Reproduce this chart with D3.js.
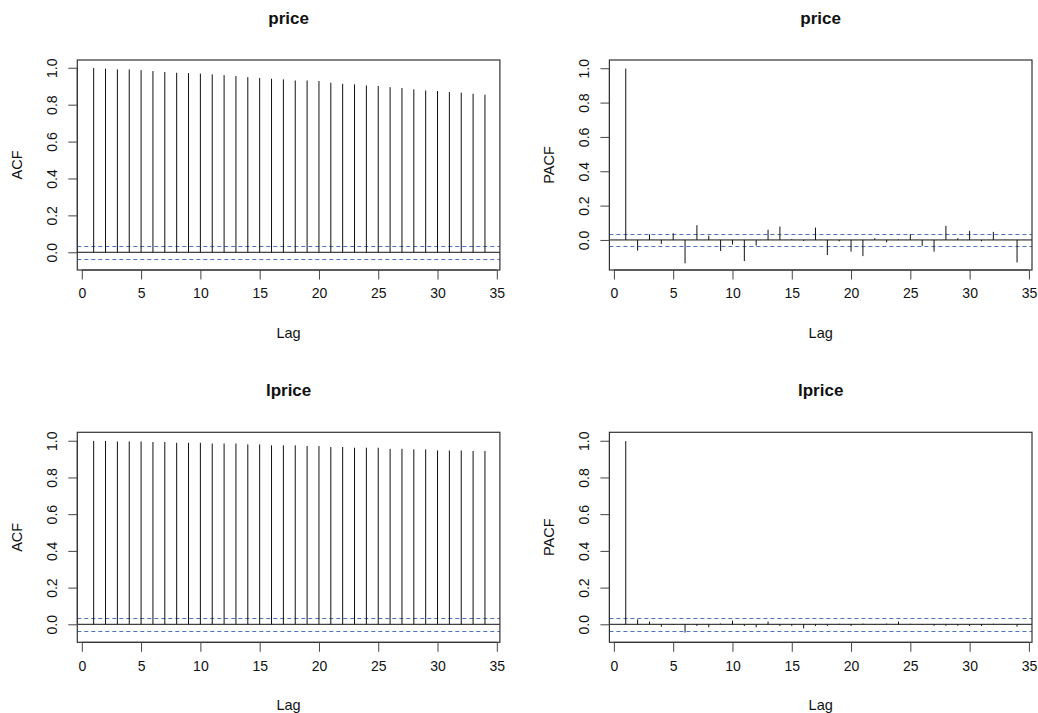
<!DOCTYPE html>
<html>
<head>
<meta charset="utf-8">
<script src="https://cdn.jsdelivr.net/npm/d3@7"></script>
<style>
  body { margin: 0; background: #fff; }
  text { font-family: "Liberation Sans", Arial, Helvetica, sans-serif; fill: #111; }
</style>
</head>
<body>
<svg id="chart" width="1038" height="713"></svg>
<script>
// lags shown on every panel
const lags = [1, 2, 3, 4, 5, 6, 7, 8, 9, 10, 11, 12, 13, 14, 15, 16, 17,
              18, 19, 20, 21, 22, 23, 24, 25, 26, 27, 28, 29, 30, 31, 32, 33, 34];

// autocorrelations
const priceAcf = [0.998, 0.995, 0.991, 0.991, 0.987, 0.982, 0.977, 0.973, 0.971, 0.968,
                  0.964, 0.960, 0.955, 0.949, 0.944, 0.940, 0.937, 0.931, 0.931, 0.928,
                  0.919, 0.913, 0.910, 0.904, 0.901, 0.895, 0.890, 0.883, 0.877, 0.874,
                  0.868, 0.865, 0.859, 0.854];
const pricePacf = [0.998, -0.062, 0.033, -0.023, 0.039, -0.136, 0.086, 0.025, -0.064, -0.027,
                   -0.123, -0.033, 0.060, 0.078, 0.004, -0.005, 0.072, -0.088, -0.008, -0.068,
                   -0.094, 0.010, -0.014, 0.003, 0.033, -0.035, -0.068, 0.082, 0.010, 0.053,
                   -0.008, 0.047, 0.002, -0.131];
const lpriceAcf = [0.999, 0.999, 0.996, 0.996, 0.996, 0.993, 0.993, 0.989, 0.989, 0.989,
                   0.985, 0.985, 0.985, 0.980, 0.980, 0.975, 0.975, 0.975, 0.971, 0.971,
                   0.966, 0.966, 0.962, 0.962, 0.962, 0.956, 0.956, 0.953, 0.953, 0.947,
                   0.947, 0.947, 0.944, 0.944];
const lpricePacf = [0.998, 0.027, 0.015, -0.013, -0.003, -0.045, -0.009, -0.016, 0.004, 0.020,
                    -0.009, -0.016, 0.015, -0.009, -0.009, -0.022, -0.009, -0.009, 0.003, -0.009,
                    0.004, -0.003, 0.004, 0.015, 0.003, -0.004, -0.008, -0.008, -0.008, -0.009,
                    -0.009, 0.003, -0.004, -0.013];

// 95% bound (dashed blue lines)
const ciBound = 0.036;

// tick labels
const xTicks = [0, 5, 10, 15, 20, 25, 30, 35];
const yTicks = [0, 0.2, 0.4, 0.6, 0.8, 1.0];

const panels = [
  { title: "price",  ylab: "ACF",  values: priceAcf,   left: 77.3,  top: 60,    ylo: -0.096, yhi: 1.042 },
  { title: "price",  ylab: "PACF", values: pricePacf,  left: 609.4, top: 60,    ylo: -0.175, yhi: 1.048 },
  { title: "lprice", ylab: "ACF",  values: lpriceAcf,  left: 77.3,  top: 432.3, ylo: -0.098, yhi: 1.046 },
  { title: "lprice", ylab: "PACF", values: lpricePacf, left: 609.4, top: 432.3, ylo: -0.098, yhi: 1.046 }
];

const boxW = 422.6, boxH = 210;
const svg = d3.select("#chart");
svg.append("rect").attr("width", 1038).attr("height", 713).attr("fill", "#fff");

panels.forEach(function (p) {
  let g = svg.append("g").attr("transform", "translate(" + p.left + "," + p.top + ")");

  let x = d3.scaleLinear().domain([-0.38, 35.26]).range([0, boxW]);
  let y = d3.scaleLinear().domain([p.ylo, p.yhi]).range([boxH, 0]);

  // confidence bounds
  [ciBound, -ciBound].forEach(function (c) {
    g.append("line")
      .attr("x1", 0).attr("x2", boxW)
      .attr("y1", Math.round(y(c) + p.top) - p.top + 0.5)
      .attr("y2", Math.round(y(c) + p.top) - p.top + 0.5)
      .attr("stroke", "#4e72c0")
      .attr("stroke-width", 1.1)
      .attr("stroke-dasharray", "4,3");
  });

  // zero line
  g.append("line")
    .attr("x1", 0).attr("x2", boxW)
    .attr("y1", y(0)).attr("y2", y(0))
    .attr("stroke", "#111").attr("stroke-width", 1);

  // spikes
  g.selectAll("line.spike")
    .data(lags.map(function (l, i) { return { lag: l, v: p.values[i] }; }))
    .enter().append("line")
    .attr("class", "spike")
    .attr("x1", function (d) { return x(d.lag); })
    .attr("x2", function (d) { return x(d.lag); })
    .attr("y1", y(0))
    .attr("y2", function (d) { return y(d.v); })
    .attr("stroke", "#111").attr("stroke-width", 1);

  // box
  g.append("rect")
    .attr("width", boxW).attr("height", boxH)
    .attr("fill", "none").attr("stroke", "#333").attr("stroke-width", 1.2);

  // axes
  let xAxis = d3.axisBottom(x).tickValues(xTicks).tickSize(9.5).tickPadding(9).tickFormat(d3.format("d"));
  let gx = g.append("g").attr("transform", "translate(0," + boxH + ")").call(xAxis);
  gx.select(".domain").attr("stroke", "#333").attr("d", "M" + x(0) + ",0H" + x(35));
  gx.selectAll(".tick line").attr("stroke", "#444");
  gx.selectAll("text").attr("font-size", 14).style("fill", "#111");

  let yAxis = d3.axisLeft(y).tickValues(yTicks).tickSize(9).tickFormat(d3.format(".1f"));
  let gy = g.append("g").call(yAxis);
  gy.select(".domain").attr("stroke", "#333").attr("d", "M0," + y(0) + "V" + y(1));
  gy.selectAll(".tick line").attr("stroke", "#444");
  gy.selectAll("text")
    .attr("font-size", 14).style("fill", "#111")
    .attr("x", 0).attr("dy", null)
    .attr("text-anchor", "middle")
    .attr("transform", "translate(-20.5,0) rotate(-90)");

  // labels
  g.append("text")
    .attr("x", boxW / 2).attr("y", boxH + 68)
    .attr("text-anchor", "middle").attr("font-size", 14.5)
    .text("Lag");
  g.append("text")
    .attr("transform", "translate(-55," + boxH / 2 + ") rotate(-90)")
    .attr("text-anchor", "middle").attr("font-size", 14.5)
    .text(p.ylab);
  g.append("text")
    .attr("x", boxW / 2).attr("y", -36)
    .attr("text-anchor", "middle").attr("font-size", 17).attr("font-weight", "bold")
    .text(p.title);
});
</script>
</body>
</html>
